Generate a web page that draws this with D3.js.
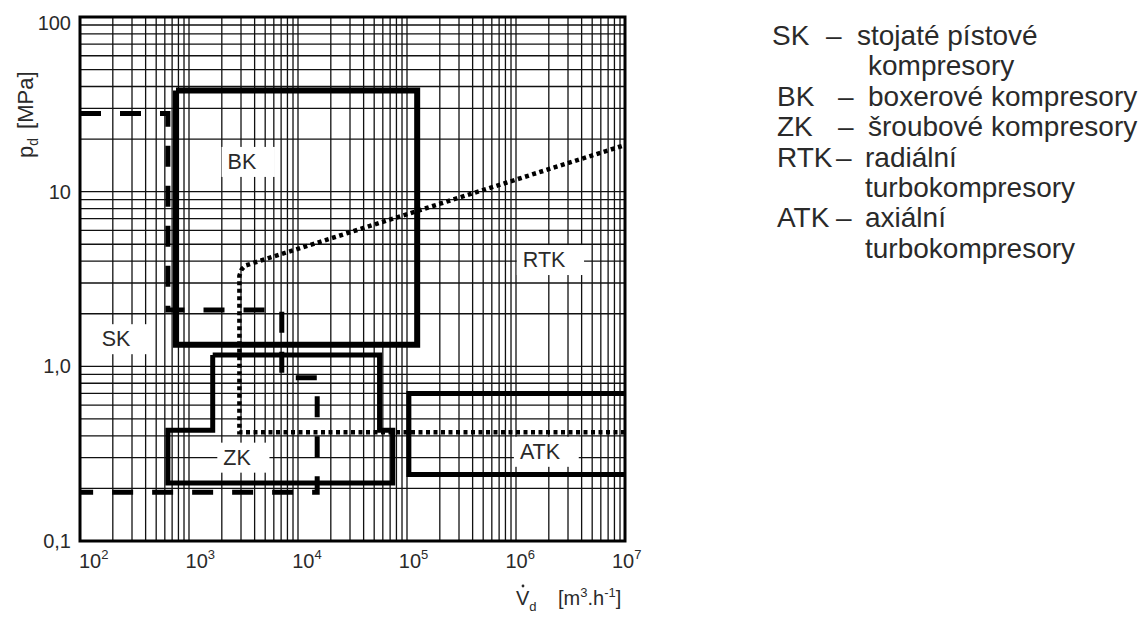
<!DOCTYPE html>
<html><head><meta charset="utf-8">
<script src="https://cdn.jsdelivr.net/npm/d3@7"></script>
<style>
body{margin:0;background:#fff}
svg{display:block}
text{font-family:"Liberation Sans",Arial,sans-serif;fill:#2a2a2a}
</style>
</head><body>
<svg id="c" width="1148" height="617"></svg>
<script>
// ---- data ----
const xDomain = [1e2, 1e7];
const yDomain = [0.1, 100];
const xTickExponents = [2, 3, 4, 5, 6, 7];
const yTickValues = [0.1, 1, 10, 100];
const yTickLabels = ["0,1", "1,0", "10", "100"];

// region boundaries [V m3/h, p MPa]
const skLine  = [[100,28],[640,28],[640,2.1],[7100,2.1],[7100,0.86],[15000,0.86],[15000,0.19],[100,0.19]];
const bkBox   = [[760,38],[1.24e5,38],[1.24e5,1.33],[760,1.33],[760,38]];
const zkBox   = [[1650,1.16],[56000,1.16],[56000,0.43],[74000,0.43],[74000,0.215],[640,0.215],[640,0.43],[1650,0.43],[1650,1.16]];
const atkBox  = [[1e7,0.7],[1.04e5,0.7],[1.04e5,0.24],[1e7,0.24]];
const rtkLine = [[1e7,0.42],[2900,0.42],[2900,3.3],[3050,3.6],[3300,3.78],[1e7,18.5]];

const regionNames = ["BK","SK","ZK","RTK","ATK"];
const regionV     = [3060, 214, 2760, 1.81e6, 1.66e6];
const regionP     = [14.8, 1.43, 0.30, 4.06, 0.324];

const legendKeys  = ["SK","","BK","ZK","RTK","","ATK",""];
const legendTexts = ["stojaté pístové","kompresory","boxerové kompresory","šroubové kompresory","radiální","turbokompresory","axiální","turbokompresory"];

// ---- layout ----
const L = 80, R = 625, T = 17, B = 541;
const svg = d3.select("#c");
const x = d3.scaleLog().domain(xDomain).range([L, R]);
const y = d3.scaleLog().domain(yDomain).range([B, T]);

// grid
const g = svg.append("g");
g.selectAll("line.vx").data(x.ticks()).join("line")
  .attr("x1", d => x(d)).attr("x2", d => x(d)).attr("y1", T).attr("y2", B)
  .attr("stroke", "#111").attr("stroke-width", 1.3);
g.selectAll("line.hy").data(y.ticks()).join("line")
  .attr("y1", d => y(d)).attr("y2", d => y(d)).attr("x1", L).attr("x2", R)
  .attr("stroke", "#111").attr("stroke-width", 1.3);

// label patches + labels
const lab = svg.append("g");
const labTexts = lab.selectAll("text").data(regionNames).join("text")
  .attr("x", (d,i) => x(regionV[i])).attr("y", (d,i) => y(regionP[i]))
  .attr("text-anchor", "middle").attr("dominant-baseline", "central")
  .attr("font-size", 21.5).text(d => d);
labTexts.each(function(){
  const b = this.getBBox();
  lab.insert("rect", "text").attr("x", b.x - 6).attr("y", b.y + b.height/2 - 15)
    .attr("width", b.width + 24).attr("height", 30).attr("fill", "#fff");
});

// shapes
const line = d3.line().x(d => x(d[0])).y(d => y(d[1]));
svg.append("path").attr("d", line(bkBox)).attr("fill","none").attr("stroke","#000").attr("stroke-width",6);
svg.append("path").attr("d", line(zkBox)).attr("fill","none").attr("stroke","#000").attr("stroke-width",5);
svg.append("path").attr("d", line(atkBox)).attr("fill","none").attr("stroke","#000").attr("stroke-width",5);
svg.append("path").attr("d", line(skLine)).attr("fill","none").attr("stroke","#000").attr("stroke-width",5).attr("stroke-dasharray","21,19");
svg.append("path").attr("d", line(rtkLine)).attr("fill","none").attr("stroke","#000").attr("stroke-width",4.5).attr("stroke-dasharray","4,3.5");

lab.raise();

// frame
svg.append("rect").attr("x", L).attr("y", T).attr("width", R-L).attr("height", B-T)
  .attr("fill","none").attr("stroke","#000").attr("stroke-width",3);

// y tick labels
svg.selectAll("text.yt").data(yTickValues).join("text")
  .attr("x", 71).attr("y", (d,i) => Math.max(y(d), T + 6))
  .attr("text-anchor","end").attr("dominant-baseline","central")
  .attr("font-size", 20).text((d,i) => yTickLabels[i]);

// x tick labels
const xt = svg.selectAll("text.xt").data(xTickExponents).join("text")
  .attr("x", (d,i) => x(Math.pow(10,d)) - 1 - 2.4*i).attr("y", 568)
  .attr("font-size", 20);
xt.append("tspan").text("10");
xt.append("tspan").attr("font-size", 13).attr("dy", -9).text(d => d);

// axis titles
const yt = svg.append("text").attr("transform","translate(33,158) rotate(-90)").attr("font-size",22);
yt.append("tspan").text("p");
yt.append("tspan").attr("font-size",14).attr("dy",5).text("d");
yt.append("tspan").attr("dy",-5).attr("dx",9).text("[MPa]");

const xtt = svg.append("text").attr("x",516).attr("y",605).attr("font-size",20);
xtt.append("tspan").text("V");
xtt.append("tspan").attr("font-size",13).attr("dy",6).text("d");
xtt.append("tspan").attr("dy",-6).attr("x",558).text("[m");
xtt.append("tspan").attr("font-size",13).attr("dy",-8).text("3");
xtt.append("tspan").attr("dy",8).text(".h");
xtt.append("tspan").attr("font-size",13).attr("dy",-8).text("-1");
xtt.append("tspan").attr("dy",8).text("]");
svg.append("circle").attr("cx",523).attr("cy",586).attr("r",1.4).attr("fill","#2a2a2a");

// legend
const lg = svg.append("g");
legendTexts.forEach((t,i) => {
  const by = 45 + i*30.4;
  const k = legendKeys[i];
  if (k) {
    lg.append("text").attr("x", i===0 ? 772 : 777).attr("y", by).attr("font-size",28).text(k);
    lg.append("text").attr("x", i===0 ? 826 : (k.length===3 ? 836 : 838)).attr("y", by).attr("font-size",28).text("–");
  }
  const tx = i===0 ? 857 : (i===1 ? 868 : (i>=4 ? 865 : 868));
  lg.append("text").attr("x", tx).attr("y", by).attr("font-size",28).text(t);
});
</script>
</body></html>
